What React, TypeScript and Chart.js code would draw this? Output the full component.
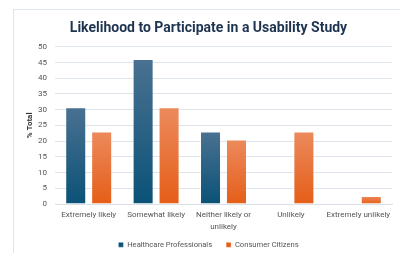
import React, { useEffect, useRef } from "react";
import { Chart, registerables } from "chart.js";

Chart.register(...registerables);

const categories: (string | string[])[] = [
  "Extremely likely",
  "Somewhat likely",
  ["Neither likely or", "unlikely"],
  "Unlikely",
  "Extremely unlikely",
];
const healthcareProfessionals = [30.77, 46.15, 23.08, 0, 0];
const consumerCitizens = [23.08, 30.77, 20.51, 23.08, 2.56];
const yTicks = [0, 5, 10, 15, 20, 25, 30, 35, 40, 45, 50];

const FONT = "Roboto, 'Noto Sans', sans-serif";

function barGradient(ctx: any, top: string, bottom: string, solid: string) {
  const chart = ctx.chart;
  const { chartArea } = chart;
  if (!chartArea || ctx.type !== "data") return solid;
  const yScale = chart.scales.y;
  const v = ctx.raw as number;
  const y1 = yScale.getPixelForValue(v);
  const y0 = yScale.getPixelForValue(0);
  if (!isFinite(y1) || Math.abs(y0 - y1) < 1) return solid;
  const g = chart.ctx.createLinearGradient(0, y1, 0, y0);
  g.addColorStop(0, top);
  g.addColorStop(1, bottom);
  return g;
}

const extendLabelArea = {
  id: "extendLabelArea",
  afterLayout(chart: any) {
    const x = chart.scales.x;
    if (x) {
      x.bottom = chart.height;
      x.height = x.bottom - x.top;
    }
  },
};

export default function App() {
  const ref = useRef<HTMLCanvasElement>(null);
  useEffect(() => {
    if (!ref.current) return;
    const chart = new Chart(ref.current, {
      type: "bar",
      data: {
        labels: categories,
        datasets: [
          {
            label: "Healthcare Professionals",
            data: healthcareProfessionals,
            backgroundColor: (c: any) => barGradient(c, "#4a7191", "#0a5277", "#1a5b80"),
            borderColor: "rgba(255,255,255,0.35)",
            borderWidth: 1,
            categoryPercentage: 0.77,
            barPercentage: 0.81,
          },
          {
            label: "Consumer Citizens",
            data: consumerCitizens,
            backgroundColor: (c: any) => barGradient(c, "#ec8a5d", "#e55e18", "#e9692a"),
            borderColor: "rgba(255,255,255,0.35)",
            borderWidth: 1,
            categoryPercentage: 0.77,
            barPercentage: 0.81,
          },
        ],
      },
      plugins: [extendLabelArea],
      options: {
        responsive: false,
        animation: false,
        devicePixelRatio: 1,
        layout: { padding: { left: 25, right: 8, top: 18, bottom: 0 } },
        plugins: {
          title: {
            display: true,
            text: "Likelihood to Participate in a Usability Study",
            color: "#1d3350",
            font: { family: FONT, size: 14, weight: "bold" },
            padding: { top: 2, bottom: 10 },
          },
          legend: {
            position: "bottom",
            maxHeight: 26,
            labels: {
              color: "#555555",
              font: { family: FONT, size: 7.6 },
              boxWidth: 5,
              boxHeight: 5,
              padding: 14,
            },
          },
          tooltip: { enabled: false },
        },
        scales: {
          x: {
            afterFit: (s: any) => {
              s.height = 23;
            },
            grid: { display: false, drawTicks: false },
            border: { color: "#d9e0e8" },
            ticks: {
              color: "#555555",
              font: { family: FONT, size: 8, lineHeight: 1.5 },
              maxRotation: 0,
              autoSkip: false,
              padding: 5,
            },
          },
          y: {
            min: 0,
            max: 50,
            afterBuildTicks: (s: any) => {
              s.ticks = yTicks.map((v) => ({ value: v }));
            },
            afterFit: (s: any) => {
              s.width = 30;
            },
            grid: { color: "#dde4ec", drawTicks: false },
            border: { display: false },
            ticks: {
              color: "#555555",
              font: { family: FONT, size: 8 },
              padding: 8,
            },
            title: {
              display: true,
              text: "% Total",
              color: "#333333",
              font: { family: FONT, size: 8, weight: "bold" },
              padding: 0,
            },
          },
        },
      },
    });
    return () => chart.destroy();
  }, []);
  return (
    <div style={{ position: "fixed", left: 0, top: 0, width: 400, height: 253, background: "#fff", overflow: "hidden" }}>
      <div
        style={{
          position: "absolute",
          left: 13,
          top: 9,
          width: 400,
          height: 260,
          border: "1px solid #dde4ec",
          boxSizing: "border-box",
        }}
      />
      <canvas ref={ref} width={400} height={253} style={{ position: "absolute", left: 0, top: 0 }} />
    </div>
  );
}
